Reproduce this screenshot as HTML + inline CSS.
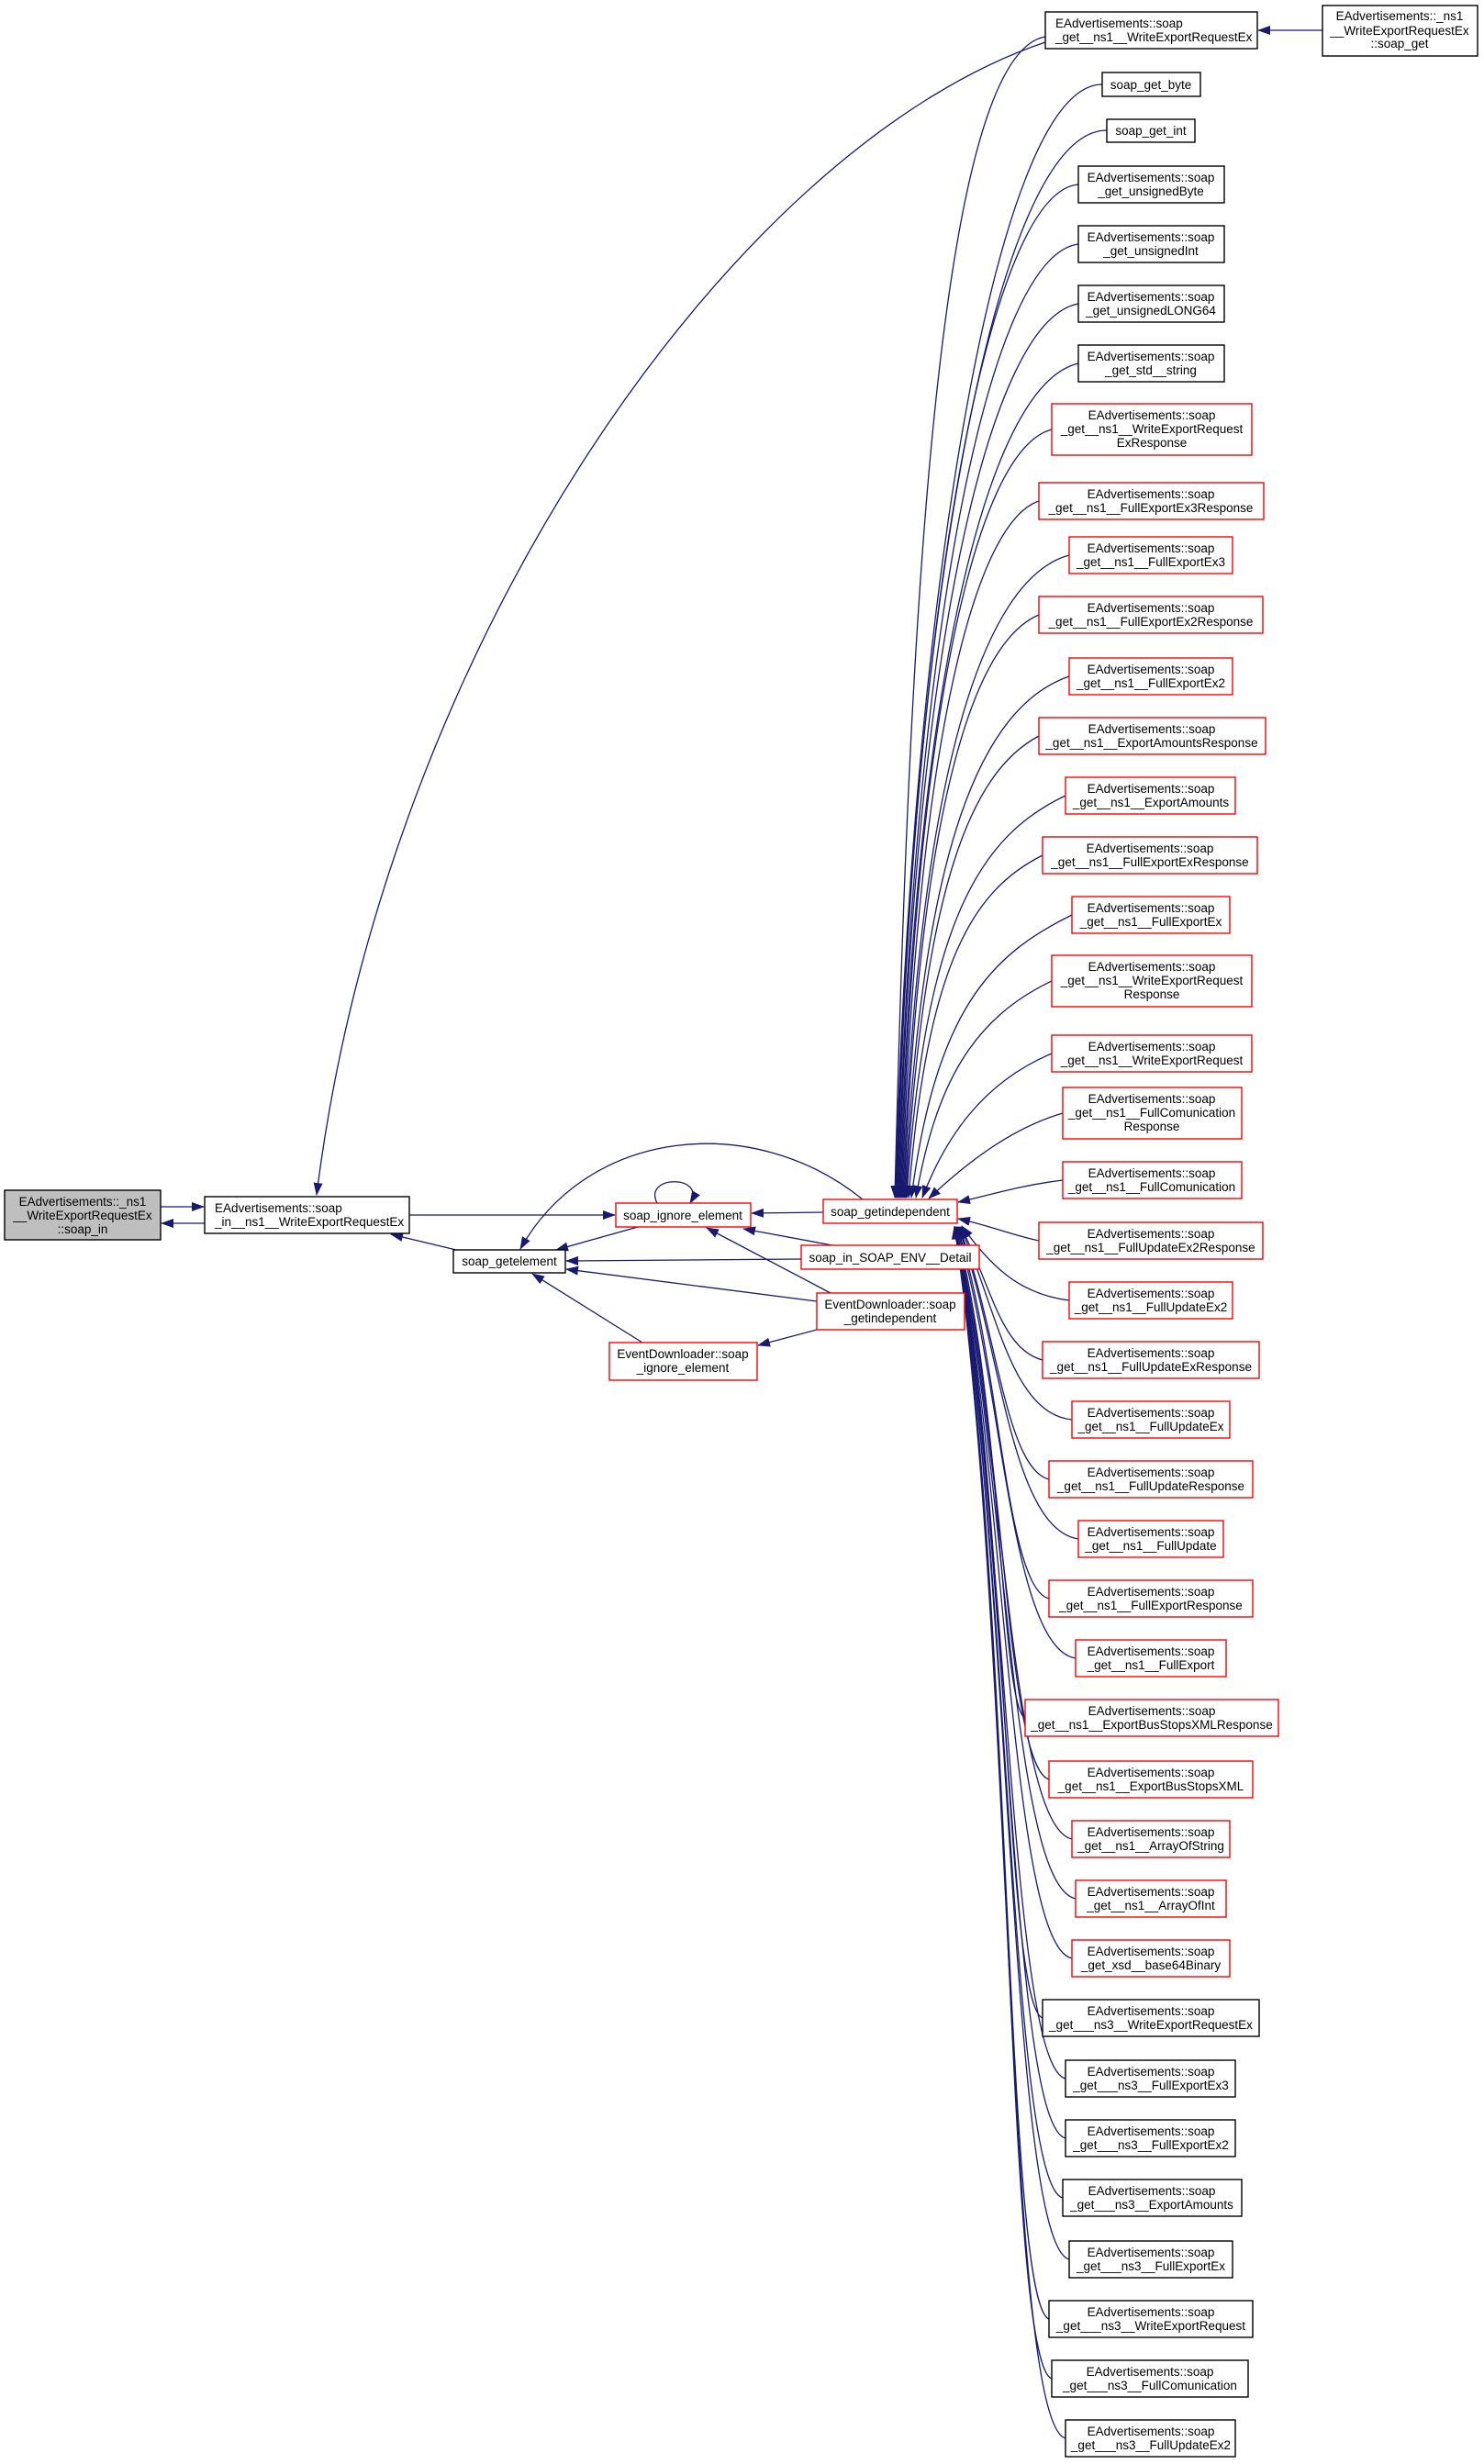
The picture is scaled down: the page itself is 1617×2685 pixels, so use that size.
<!DOCTYPE html>
<html><head><meta charset="utf-8"><style>
html,body{margin:0;padding:0;background:#fff;}
svg{display:block;}
text{font-family:"Liberation Sans",sans-serif;font-size:13.5px;fill:#000;}
</style></head><body>
<svg width="1617" height="2685" viewBox="0 0 1617 2685" xmlns="http://www.w3.org/2000/svg">
<defs>
<marker id="a" markerWidth="14" markerHeight="10" refX="13" refY="5" orient="auto" markerUnits="userSpaceOnUse">
<path d="M0,0 L14,5 L0,10 z" fill="#191970"/>
</marker>
</defs>
<g fill="none" stroke="#191970" stroke-width="1.3" marker-end="url(#a)">
<!-- fan edges to soap_getindependent -->
<path d="M1139,40 C1020,60 990,700 975,1305"/>
<path d="M1201,92 C1080,92 990,700 976,1305"/>
<path d="M1206,142 C1080,142 990,700 977,1305"/>
<path d="M1175,201 C1070,210 990,720 978,1305"/>
<path d="M1175,266 C1070,280 992,740 979,1305"/>
<path d="M1175,331 C1070,350 992,760 980,1305"/>
<path d="M1175,396 C1070,420 994,780 981,1305"/>
<path d="M1146,468 C1060,490 996,800 982,1305"/>
<path d="M1132,546 C1060,570 998,820 983,1305"/>
<path d="M1165,605 C1070,630 1000,850 984,1305"/>
<path d="M1132,670 C1060,700 1002,880 985,1305"/>
<path d="M1165,737 C1070,770 1004,920 986,1305"/>
<path d="M1132,802 C1060,840 1006,960 987,1305"/>
<path d="M1161,867 C1070,910 1008,1000 988,1305"/>
<path d="M1136,932 C1060,970 1010,1050 990,1305"/>
<path d="M1168,997 C1080,1040 1020,1100 993,1305"/>
<path d="M1146,1069 C1060,1110 1020,1180 998,1305"/>
<path d="M1146,1148 C1070,1180 1030,1240 1005,1305"/>
<path d="M1158,1213 C1100,1230 1050,1270 1012,1306"/>
<path d="M1158,1286 C1110,1292 1080,1302 1044,1310"/>
<path d="M1132,1352 C1100,1345 1080,1336 1044,1328"/>
<path d="M1165,1417 C1110,1410 1080,1380 1048,1336"/>
<path d="M1136,1482 C1090,1470 1080,1400 1047,1337"/>
<path d="M1168,1547 C1100,1540 1085,1420 1046,1337"/>
<path d="M1143,1612 C1095,1600 1085,1440 1045,1337"/>
<path d="M1175,1677 C1100,1665 1090,1460 1044,1337"/>
<path d="M1143,1742 C1095,1730 1090,1480 1043,1337"/>
<path d="M1172,1807 C1100,1795 1092,1500 1042,1337"/>
<path d="M1117,1872 C1090,1860 1092,1520 1041,1337"/>
<path d="M1143,1939 C1095,1925 1094,1540 1040,1337"/>
<path d="M1168,2004 C1100,1990 1094,1560 1040,1337"/>
<path d="M1172,2069 C1100,2055 1096,1580 1040,1337"/>
<path d="M1168,2134 C1100,2120 1096,1600 1040,1337"/>
<path d="M1136,2199 C1095,2185 1098,1620 1040,1337"/>
<path d="M1161,2265 C1100,2250 1098,1640 1040,1337"/>
<path d="M1161,2330 C1100,2315 1100,1660 1040,1337"/>
<path d="M1158,2395 C1100,2380 1100,1680 1040,1337"/>
<path d="M1165,2462 C1100,2445 1102,1700 1040,1337"/>
<path d="M1143,2527 C1095,2510 1102,1720 1040,1337"/>
<path d="M1146,2592 C1095,2575 1104,1740 1040,1337"/>
<path d="M1161,2657 C1095,2640 1104,1760 1040,1337"/>
<!-- long edge to soap_in__ns1 -->
<path d="M1139,46 C800,160 420,700 345,1302"/>
<!-- soap_get -> node1 -->
<path d="M1441,33 L1371,33"/>
<!-- left cluster -->
<path d="M175,1315 L222,1315"/>
<path d="M223,1333 L176,1333"/>
<path d="M446,1324 L670,1324"/>
<path d="M497,1362 L426,1345"/>
<path d="M695,1337 L606,1362"/>
<path d="M940,1307 C820,1210 640,1230 567,1361"/>
<path d="M897,1321 L819,1322"/>
<path d="M907,1357 L810,1339"/>
<path d="M873,1372 L617,1374"/>
<path d="M890,1418 L617,1383"/>
<path d="M905,1409 L770,1338"/>
<path d="M700,1463 L580,1388"/>
<path d="M890,1449 L826,1466"/>
<path d="M716,1311 C700,1280 770,1280 752,1311"/>
</g>
<g stroke-width="1.4">
<!-- left nodes -->
<rect x="5" y="1297" width="170" height="54" fill="#bfbfbf" stroke="#000"/>
<text x="90" y="1314" text-anchor="middle">EAdvertisements::_ns1</text>
<text x="90" y="1329" text-anchor="middle">__WriteExportRequestEx</text>
<text x="90" y="1344" text-anchor="middle">::soap_in</text>
<rect x="223" y="1304" width="223" height="40" fill="#fff" stroke="#000"/>
<text x="234" y="1321">EAdvertisements::soap</text>
<text x="234" y="1336">_in__ns1__WriteExportRequestEx</text>
<rect x="494" y="1362" width="122" height="25" fill="#fff" stroke="#000"/>
<text x="555" y="1379" text-anchor="middle">soap_getelement</text>
<rect x="671" y="1311" width="147" height="26" fill="#fff" stroke="#f00"/>
<text x="744" y="1329" text-anchor="middle">soap_ignore_element</text>
<rect x="897" y="1307" width="146" height="26" fill="#fff" stroke="#f00"/>
<text x="970" y="1325" text-anchor="middle">soap_getindependent</text>
<rect x="873" y="1357" width="194" height="26" fill="#fff" stroke="#f00"/>
<text x="970" y="1375" text-anchor="middle">soap_in_SOAP_ENV__Detail</text>
<rect x="890" y="1409" width="161" height="40" fill="#fff" stroke="#f00"/>
<text x="970" y="1426" text-anchor="middle">EventDownloader::soap</text>
<text x="970" y="1441" text-anchor="middle">_getindependent</text>
<rect x="664" y="1463" width="161" height="41" fill="#fff" stroke="#f00"/>
<text x="744" y="1480" text-anchor="middle">EventDownloader::soap</text>
<text x="744" y="1495" text-anchor="middle">_ignore_element</text>
<!-- soap_get -->
<rect x="1441" y="6" width="169" height="55" fill="#fff" stroke="#000"/>
<text x="1525" y="22" text-anchor="middle">EAdvertisements::_ns1</text>
<text x="1525" y="38" text-anchor="middle">__WriteExportRequestEx</text>
<text x="1525" y="52" text-anchor="middle">::soap_get</text>
<!-- node 1 -->
<rect x="1139" y="13" width="231" height="40" fill="#fff" stroke="#000"/>
<text x="1150" y="30">EAdvertisements::soap</text>
<text x="1150" y="45">_get__ns1__WriteExportRequestEx</text>
<rect x="1201" y="79" width="107" height="26" fill="#fff" stroke="#000"/>
<text x="1254" y="97" text-anchor="middle">soap_get_byte</text>
<rect x="1206" y="130" width="96" height="25" fill="#fff" stroke="#000"/>
<text x="1254" y="147" text-anchor="middle">soap_get_int</text>
</g>
<g stroke-width="1.4" fill="#fff" id="rn"></g>
<g stroke-width="1.4">
<rect x="1175" y="181" width="159" height="40" fill="#fff" stroke="#000"/><text x="1254" y="198" text-anchor="middle">EAdvertisements::soap</text><text x="1254" y="213" text-anchor="middle">_get_unsignedByte</text>
<rect x="1175" y="246" width="159" height="40" fill="#fff" stroke="#000"/><text x="1254" y="263" text-anchor="middle">EAdvertisements::soap</text><text x="1254" y="278" text-anchor="middle">_get_unsignedInt</text>
<rect x="1175" y="311" width="159" height="40" fill="#fff" stroke="#000"/><text x="1254" y="328" text-anchor="middle">EAdvertisements::soap</text><text x="1254" y="343" text-anchor="middle">_get_unsignedLONG64</text>
<rect x="1175" y="376" width="159" height="40" fill="#fff" stroke="#000"/><text x="1254" y="393" text-anchor="middle">EAdvertisements::soap</text><text x="1254" y="408" text-anchor="middle">_get_std__string</text>
<rect x="1146" y="440" width="218" height="56" fill="#fff" stroke="#f00"/><text x="1255" y="457" text-anchor="middle">EAdvertisements::soap</text><text x="1255" y="472" text-anchor="middle">_get__ns1__WriteExportRequest</text><text x="1255" y="487" text-anchor="middle">ExResponse</text>
<rect x="1132" y="526" width="245" height="40" fill="#fff" stroke="#f00"/><text x="1254" y="543" text-anchor="middle">EAdvertisements::soap</text><text x="1254" y="558" text-anchor="middle">_get__ns1__FullExportEx3Response</text>
<rect x="1165" y="585" width="178" height="40" fill="#fff" stroke="#f00"/><text x="1254" y="602" text-anchor="middle">EAdvertisements::soap</text><text x="1254" y="617" text-anchor="middle">_get__ns1__FullExportEx3</text>
<rect x="1132" y="650" width="244" height="40" fill="#fff" stroke="#f00"/><text x="1254" y="667" text-anchor="middle">EAdvertisements::soap</text><text x="1254" y="682" text-anchor="middle">_get__ns1__FullExportEx2Response</text>
<rect x="1165" y="717" width="178" height="40" fill="#fff" stroke="#f00"/><text x="1254" y="734" text-anchor="middle">EAdvertisements::soap</text><text x="1254" y="749" text-anchor="middle">_get__ns1__FullExportEx2</text>
<rect x="1132" y="782" width="247" height="40" fill="#fff" stroke="#f00"/><text x="1255" y="799" text-anchor="middle">EAdvertisements::soap</text><text x="1255" y="814" text-anchor="middle">_get__ns1__ExportAmountsResponse</text>
<rect x="1161" y="847" width="185" height="40" fill="#fff" stroke="#f00"/><text x="1254" y="864" text-anchor="middle">EAdvertisements::soap</text><text x="1254" y="879" text-anchor="middle">_get__ns1__ExportAmounts</text>
<rect x="1136" y="912" width="234" height="40" fill="#fff" stroke="#f00"/><text x="1253" y="929" text-anchor="middle">EAdvertisements::soap</text><text x="1253" y="944" text-anchor="middle">_get__ns1__FullExportExResponse</text>
<rect x="1168" y="977" width="172" height="40" fill="#fff" stroke="#f00"/><text x="1254" y="994" text-anchor="middle">EAdvertisements::soap</text><text x="1254" y="1009" text-anchor="middle">_get__ns1__FullExportEx</text>
<rect x="1146" y="1041" width="218" height="56" fill="#fff" stroke="#f00"/><text x="1255" y="1058" text-anchor="middle">EAdvertisements::soap</text><text x="1255" y="1073" text-anchor="middle">_get__ns1__WriteExportRequest</text><text x="1255" y="1088" text-anchor="middle">Response</text>
<rect x="1146" y="1128" width="218" height="40" fill="#fff" stroke="#f00"/><text x="1255" y="1145" text-anchor="middle">EAdvertisements::soap</text><text x="1255" y="1160" text-anchor="middle">_get__ns1__WriteExportRequest</text>
<rect x="1158" y="1185" width="195" height="56" fill="#fff" stroke="#f00"/><text x="1255" y="1202" text-anchor="middle">EAdvertisements::soap</text><text x="1255" y="1217" text-anchor="middle">_get__ns1__FullComunication</text><text x="1255" y="1232" text-anchor="middle">Response</text>
<rect x="1158" y="1266" width="195" height="40" fill="#fff" stroke="#f00"/><text x="1255" y="1283" text-anchor="middle">EAdvertisements::soap</text><text x="1255" y="1298" text-anchor="middle">_get__ns1__FullComunication</text>
<rect x="1132" y="1332" width="244" height="40" fill="#fff" stroke="#f00"/><text x="1254" y="1349" text-anchor="middle">EAdvertisements::soap</text><text x="1254" y="1364" text-anchor="middle">_get__ns1__FullUpdateEx2Response</text>
<rect x="1165" y="1397" width="178" height="40" fill="#fff" stroke="#f00"/><text x="1254" y="1414" text-anchor="middle">EAdvertisements::soap</text><text x="1254" y="1429" text-anchor="middle">_get__ns1__FullUpdateEx2</text>
<rect x="1136" y="1462" width="236" height="40" fill="#fff" stroke="#f00"/><text x="1254" y="1479" text-anchor="middle">EAdvertisements::soap</text><text x="1254" y="1494" text-anchor="middle">_get__ns1__FullUpdateExResponse</text>
<rect x="1168" y="1527" width="172" height="40" fill="#fff" stroke="#f00"/><text x="1254" y="1544" text-anchor="middle">EAdvertisements::soap</text><text x="1254" y="1559" text-anchor="middle">_get__ns1__FullUpdateEx</text>
<rect x="1143" y="1592" width="222" height="40" fill="#fff" stroke="#f00"/><text x="1254" y="1609" text-anchor="middle">EAdvertisements::soap</text><text x="1254" y="1624" text-anchor="middle">_get__ns1__FullUpdateResponse</text>
<rect x="1175" y="1657" width="158" height="40" fill="#fff" stroke="#f00"/><text x="1254" y="1674" text-anchor="middle">EAdvertisements::soap</text><text x="1254" y="1689" text-anchor="middle">_get__ns1__FullUpdate</text>
<rect x="1143" y="1722" width="222" height="40" fill="#fff" stroke="#f00"/><text x="1254" y="1739" text-anchor="middle">EAdvertisements::soap</text><text x="1254" y="1754" text-anchor="middle">_get__ns1__FullExportResponse</text>
<rect x="1172" y="1787" width="164" height="40" fill="#fff" stroke="#f00"/><text x="1254" y="1804" text-anchor="middle">EAdvertisements::soap</text><text x="1254" y="1819" text-anchor="middle">_get__ns1__FullExport</text>
<rect x="1117" y="1852" width="276" height="40" fill="#fff" stroke="#f00"/><text x="1255" y="1869" text-anchor="middle">EAdvertisements::soap</text><text x="1255" y="1884" text-anchor="middle">_get__ns1__ExportBusStopsXMLResponse</text>
<rect x="1143" y="1919" width="222" height="40" fill="#fff" stroke="#f00"/><text x="1254" y="1936" text-anchor="middle">EAdvertisements::soap</text><text x="1254" y="1951" text-anchor="middle">_get__ns1__ExportBusStopsXML</text>
<rect x="1168" y="1984" width="172" height="40" fill="#fff" stroke="#f00"/><text x="1254" y="2001" text-anchor="middle">EAdvertisements::soap</text><text x="1254" y="2016" text-anchor="middle">_get__ns1__ArrayOfString</text>
<rect x="1172" y="2049" width="164" height="40" fill="#fff" stroke="#f00"/><text x="1254" y="2066" text-anchor="middle">EAdvertisements::soap</text><text x="1254" y="2081" text-anchor="middle">_get__ns1__ArrayOfInt</text>
<rect x="1168" y="2114" width="172" height="40" fill="#fff" stroke="#f00"/><text x="1254" y="2131" text-anchor="middle">EAdvertisements::soap</text><text x="1254" y="2146" text-anchor="middle">_get_xsd__base64Binary</text>
<rect x="1136" y="2179" width="236" height="40" fill="#fff" stroke="#000"/><text x="1254" y="2196" text-anchor="middle">EAdvertisements::soap</text><text x="1254" y="2211" text-anchor="middle">_get___ns3__WriteExportRequestEx</text>
<rect x="1161" y="2245" width="185" height="40" fill="#fff" stroke="#000"/><text x="1254" y="2262" text-anchor="middle">EAdvertisements::soap</text><text x="1254" y="2277" text-anchor="middle">_get___ns3__FullExportEx3</text>
<rect x="1161" y="2310" width="185" height="40" fill="#fff" stroke="#000"/><text x="1254" y="2327" text-anchor="middle">EAdvertisements::soap</text><text x="1254" y="2342" text-anchor="middle">_get___ns3__FullExportEx2</text>
<rect x="1158" y="2375" width="195" height="40" fill="#fff" stroke="#000"/><text x="1255" y="2392" text-anchor="middle">EAdvertisements::soap</text><text x="1255" y="2407" text-anchor="middle">_get___ns3__ExportAmounts</text>
<rect x="1165" y="2442" width="178" height="40" fill="#fff" stroke="#000"/><text x="1254" y="2459" text-anchor="middle">EAdvertisements::soap</text><text x="1254" y="2474" text-anchor="middle">_get___ns3__FullExportEx</text>
<rect x="1143" y="2507" width="222" height="40" fill="#fff" stroke="#000"/><text x="1254" y="2524" text-anchor="middle">EAdvertisements::soap</text><text x="1254" y="2539" text-anchor="middle">_get___ns3__WriteExportRequest</text>
<rect x="1146" y="2572" width="214" height="40" fill="#fff" stroke="#000"/><text x="1253" y="2589" text-anchor="middle">EAdvertisements::soap</text><text x="1253" y="2604" text-anchor="middle">_get___ns3__FullComunication</text>
<rect x="1161" y="2637" width="185" height="40" fill="#fff" stroke="#000"/><text x="1254" y="2654" text-anchor="middle">EAdvertisements::soap</text><text x="1254" y="2669" text-anchor="middle">_get___ns3__FullUpdateEx2</text>
</g>
</svg>
</body></html>
